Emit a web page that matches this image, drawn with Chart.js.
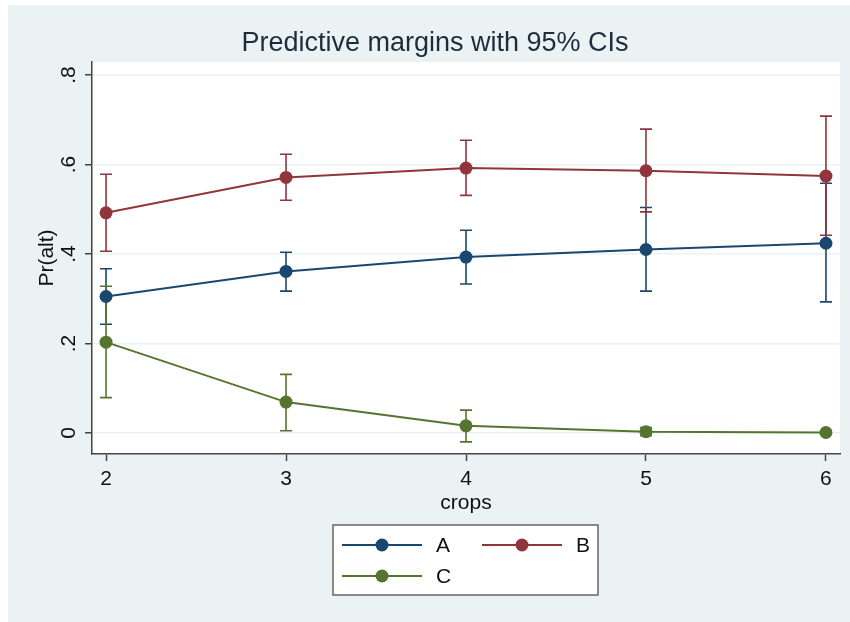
<!DOCTYPE html>
<html>
<head>
<meta charset="utf-8">
<script src="https://cdn.jsdelivr.net/npm/chart.js@4.4.0/dist/chart.umd.min.js"></script>
<style>
  body { margin: 0; background: #fff; }
  #wrap { width: 850px; height: 622px; position: relative; }
</style>
</head>
<body>
<div id="wrap"><canvas id="myChart"></canvas></div>
<script>
const crops = [2, 3, 4, 5, 6];

const aMargin = [0.305, 0.361, 0.393, 0.410, 0.424];
const aLower = [0.243, 0.317, 0.333, 0.317, 0.293];
const aUpper = [0.367, 0.404, 0.453, 0.504, 0.558];

const bMargin = [0.492, 0.571, 0.592, 0.586, 0.574];
const bLower = [0.406, 0.520, 0.531, 0.494, 0.442];
const bUpper = [0.578, 0.623, 0.654, 0.679, 0.708];

const cMargin = [0.203, 0.069, 0.016, 0.003, 0.001];
const cLower = [0.079, 0.005, -0.020, -0.006, -0.003];
const cUpper = [0.328, 0.131, 0.051, 0.012, 0.005];

const yTicks = [0, 0.2, 0.4, 0.6, 0.8];
const yTickLabels = ["0", ".2", ".4", ".6", ".8"];

const bg = "#eaf2f3";
const font = "'Liberation Sans', Arial, sans-serif";

function points(ys) {
  return crops.map((x, i) => ({ x: x, y: ys[i] }));
}

function makeSet(label, color, ys, lo, hi) {
  return {
    label: label,
    data: points(ys),
    lower: lo,
    upper: hi,
    borderColor: color,
    backgroundColor: color,
    borderWidth: 2,
    pointRadius: 6.5,
    pointHoverRadius: 6.5,
    pointBorderWidth: 0,
    tension: 0,
    fill: false,
  };
}

// background + white plot region
const backdrop = {
  id: "backdrop",
  beforeDraw(chart) {
    const { ctx, chartArea } = chart;
    ctx.save();
    ctx.fillStyle = bg;
    ctx.fillRect(8, 5, chart.width - 8, chart.height - 5);
    ctx.fillStyle = "#fff";
    ctx.fillRect(chartArea.left, chartArea.top, chartArea.right - chartArea.left, chartArea.bottom - chartArea.top);
    ctx.restore();
  },
};

// confidence intervals with caps
const ciBars = {
  id: "ciBars",
  beforeDatasetsDraw(chart) {
    const { ctx, scales } = chart;
    ctx.save();
    chart.data.datasets.forEach((ds) => {
      ctx.strokeStyle = ds.borderColor;
      ctx.lineWidth = 1.6;
      crops.forEach((c, i) => {
        const x = scales.x.getPixelForValue(c);
        const y1 = scales.y.getPixelForValue(ds.lower[i]);
        const y2 = scales.y.getPixelForValue(ds.upper[i]);
        ctx.beginPath();
        ctx.moveTo(x, y1);
        ctx.lineTo(x, y2);
        ctx.moveTo(x - 6, y1);
        ctx.lineTo(x + 6, y1);
        ctx.moveTo(x - 6, y2);
        ctx.lineTo(x + 6, y2);
        ctx.stroke();
      });
    });
    ctx.restore();
  },
};

// Stata-like boxed legend below the axis
const boxLegend = {
  id: "boxLegend",
  afterDraw(chart) {
    const { ctx } = chart;
    const box = { x: 333, y: 525, w: 265, h: 70 };
    ctx.save();
    ctx.fillStyle = "#fff";
    ctx.fillRect(box.x, box.y, box.w, box.h);
    ctx.strokeStyle = "#666";
    ctx.lineWidth = 1.5;
    ctx.strokeRect(box.x, box.y, box.w, box.h);
    ctx.font = "21px " + font;
    ctx.textBaseline = "middle";
    chart.data.datasets.forEach((ds, i) => {
      const col = i % 2;
      const row = Math.floor(i / 2);
      const lx = box.x + 9 + col * 140;
      const ly = box.y + 20 + row * 31;
      ctx.strokeStyle = ds.borderColor;
      ctx.lineWidth = 2;
      ctx.beginPath();
      ctx.moveTo(lx, ly);
      ctx.lineTo(lx + 80, ly);
      ctx.stroke();
      ctx.fillStyle = ds.borderColor;
      ctx.beginPath();
      ctx.arc(lx + 40, ly, 6.5, 0, Math.PI * 2);
      ctx.fill();
      ctx.fillStyle = "#111";
      ctx.fillText(ds.label, lx + 94, ly + 1);
    });
    ctx.restore();
  },
};

const ctx = document.getElementById("myChart");

const myChart = new Chart(ctx, {
  type: "line",
  data: {
    datasets: [
      makeSet("A", "#1a476f", aMargin, aLower, aUpper),
      makeSet("B", "#90353b", bMargin, bLower, bUpper),
      makeSet("C", "#55752f", cMargin, cLower, cUpper),
    ],
  },
  plugins: [backdrop, ciBars, boxLegend],
  options: {
    responsive: true,
    maintainAspectRatio: false,
    animation: false,
    layout: { padding: { left: 30, right: 10, top: 0, bottom: 106 } },
    plugins: {
      legend: { display: false },
      tooltip: { enabled: false },
      title: {
        display: true,
        text: "Predictive margins with 95% CIs",
        color: "#1e2d3c",
        font: { family: font, size: 27, weight: "normal", lineHeight: 1.2 },
        padding: { top: 27, bottom: 2.6 },
      },
    },
    scales: {
      x: {
        type: "linear",
        min: 1.922,
        max: 6.078,
        afterBuildTicks: (scale) => {
          scale.ticks = crops.map((v) => ({ value: v }));
        },
        afterFit: (scale) => {
          scale.height = 62;
        },
        ticks: {
          color: "#111",
          font: { family: font, size: 21 },
          padding: 6,
          maxRotation: 0,
          callback: (v) => String(v),
        },
        grid: { drawOnChartArea: false, tickLength: 7, tickColor: "#444", tickWidth: 1.5 },
        border: { color: "#444", width: 1.5 },
        title: {
          display: true,
          text: "crops",
          color: "#111",
          font: { family: font, size: 21, lineHeight: 1.2 },
          padding: { top: 0, bottom: 0 },
        },
      },
      y: {
        min: -0.047,
        max: 0.829,
        afterBuildTicks: (scale) => {
          scale.ticks = yTicks.map((v) => ({ value: v }));
        },
        afterFit: (scale) => {
          scale.width = 62;
        },
        ticks: {
          color: "#111",
          font: { family: font, size: 21 },
          minRotation: 90,
          maxRotation: 90,
          crossAlign: "center",
          padding: 7,
          callback: (v) => {
            const i = yTicks.indexOf(v);
            return i >= 0 ? yTickLabels[i] : "";
          },
        },
        grid: { color: bg, lineWidth: 1.5, tickLength: 7, tickColor: "#444", tickWidth: 1.5 },
        border: { color: "#444", width: 1.5 },
        title: {
          display: true,
          text: "Pr(alt)",
          color: "#111",
          font: { family: font, size: 21, lineHeight: 1.2 },
          padding: { top: 4.4, bottom: 0 },
        },
      },
    },
  },
});
</script>
</body>
</html>
